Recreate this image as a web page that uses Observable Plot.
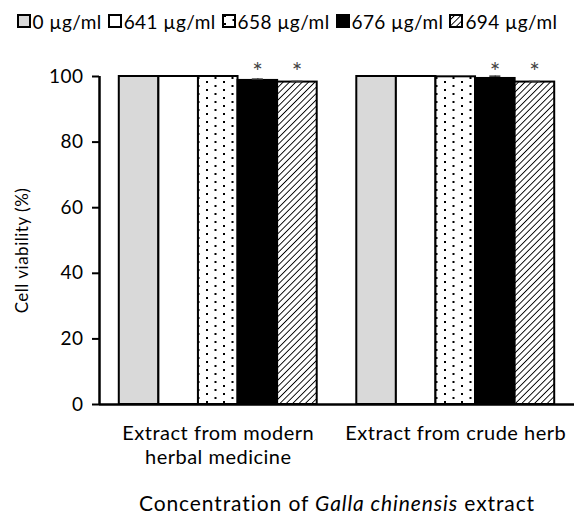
<!DOCTYPE html>
<html>
<head>
<meta charset="utf-8">
<script src="https://cdn.jsdelivr.net/npm/d3@7"></script>
<script src="https://cdn.jsdelivr.net/npm/@observablehq/plot@0.6"></script>
<style>
  html, body { margin: 0; padding: 0; background: #fff; }
  body { width: 574px; height: 515px; font-family: Lato, "Open Sans", sans-serif; color: #000; overflow: hidden; }
  #legend { height: 40px; display: flex; align-items: center; justify-content: center; font-size: 19px; letter-spacing: 0.4px; padding-top: 2px; box-sizing: border-box; white-space: nowrap; }
  #legend .item { display: flex; align-items: center; margin: 0 3px; }
  #legend svg { margin-right: 2px; }
  #caption { text-align: center; font-size: 21px; letter-spacing: 0.9px; line-height: 25px; padding-top: 20px; padding-left: 100px; box-sizing: border-box; width: 574px; }
  #chart svg text { letter-spacing: 0.5px; }
</style>
</head>
<body>
<svg width="0" height="0" style="position:absolute">
  <defs>
    <pattern id="dots" patternUnits="userSpaceOnUse" width="17" height="8">
      <rect width="17" height="8" fill="white"/>
      <rect x="2" y="1" width="2" height="2" fill="black"/>
      <rect x="10.5" y="5" width="2" height="2" fill="black"/>
    </pattern>
    <pattern id="hatch" patternUnits="userSpaceOnUse" width="4.5" height="4.5" patternTransform="rotate(45)">
      <rect width="4.5" height="4.5" fill="white"/>
      <line x1="0" y1="0" x2="0" y2="4.5" stroke="black" stroke-width="1.8"/>
    </pattern>
  </defs>
</svg>
<div id="legend"></div>
<div id="chart"></div>
<div id="caption">Concentration of <i>Galla chinensis</i> extract</div>
<script>
// ---- data ----
const groups = ["Extract from modern\nherbal medicine", "Extract from crude herb"];
const concentrations = ["0 µg/ml", "641 µg/ml", "658 µg/ml", "676 µg/ml", "694 µg/ml"];
const modernValues = [100, 100, 100, 98.8, 98.3];
const crudeValues = [100, 100, 99.9, 99.4, 98.3];
const modernErrors = [0, 0, 0, 0.4, 0.2];
const crudeErrors = [0, 0, 0, 0.7, 0.2];
const modernSignificance = ["", "", "", "*", "*"];
const crudeSignificance = ["", "", "", "*", "*"];
const yTicks = [0, 20, 40, 60, 80, 100];
const yLabel = "Cell viability (%)";
const fills = ["#d9d9d9", "white", "url(#dots)", "black", "url(#hatch)"];

// ---- build rows ----
const seriesValues = [modernValues, crudeValues];
const seriesErrors = [modernErrors, crudeErrors];
const seriesSig = [modernSignificance, crudeSignificance];
const slotsPerGroup = concentrations.length + 1;
const rows = [];
groups.forEach((g, gi) => {
  concentrations.forEach((c, ci) => {
    const start = gi * slotsPerGroup + 0.5 + ci;
    rows.push({
      group: g, conc: c,
      x1: start, x2: start + 1, xc: start + 0.5,
      value: seriesValues[gi][ci],
      err: seriesErrors[gi][ci],
      sig: seriesSig[gi][ci]
    });
  });
});
const groupRows = groups.map((g, gi) => ({label: g, xc: gi * slotsPerGroup + 0.5 + concentrations.length / 2}));
const xMax = groups.length * slotsPerGroup;
const yMax = d3.max(yTicks);

// ---- legend ----
const legend = d3.select("#legend");
concentrations.forEach((c, i) => {
  const item = legend.append("div").attr("class", "item");
  const s = item.append("svg").attr("width", 14).attr("height", 14);
  s.append("rect").attr("x", 1).attr("y", 1).attr("width", 12).attr("height", 12)
    .attr("fill", fills[i]).attr("stroke", "black").attr("stroke-width", 2);
  item.append("span").text(c);
});

// ---- chart ----
const chart = Plot.plot({
  width: 574,
  height: 430,
  marginLeft: 99,
  marginRight: 0,
  marginTop: 36,
  marginBottom: 66,
  style: {fontFamily: "Lato, 'Open Sans', sans-serif", fontSize: "18px", color: "#000", background: "white"},
  x: {domain: [0, xMax], axis: null},
  y: {domain: [0, yMax], ticks: yTicks},
  color: {domain: concentrations, range: fills},
  marks: [
    Plot.rect(rows, {x1: "x1", x2: "x2", y1: 0, y2: "value", fill: "conc", stroke: "black", strokeWidth: 2}),
    Plot.ruleX(rows.filter(d => d.err > 0), {x: "xc", y1: "value", y2: d => d.value + d.err, stroke: "black", strokeWidth: 1.5}),
    Plot.ruleY(rows.filter(d => d.err > 0), {x1: d => d.xc - 0.14, x2: d => d.xc + 0.14, y: d => d.value + d.err, stroke: "#333", strokeWidth: 1.5}),
    Plot.text(rows.filter(d => d.sig), {x: "xc", y: () => yMax, text: "sig", dy: 4, fontSize: 25, fill: "#444", lineAnchor: "bottom"}),
    Plot.ruleY([0], {stroke: "black", strokeWidth: 2.5}),
    Plot.ruleX([0], {y1: 0, y2: yMax, stroke: "black", strokeWidth: 2.5}),
    Plot.axisY({ticks: yTicks, tickSize: 7, tickPadding: 9, strokeWidth: 2, fontSize: 19, label: null}),
    Plot.text([yLabel], {frameAnchor: "left", textAnchor: "middle", rotate: -90, dx: -77, dy: 10, fontSize: 17, text: d => d}),
    Plot.text(groupRows, {x: "xc", y: 0, text: "label", dy: 18, lineAnchor: "top", lineHeight: 1.22, fontSize: 20})
  ]
});
document.getElementById("chart").appendChild(chart);
</script>
</body>
</html>
